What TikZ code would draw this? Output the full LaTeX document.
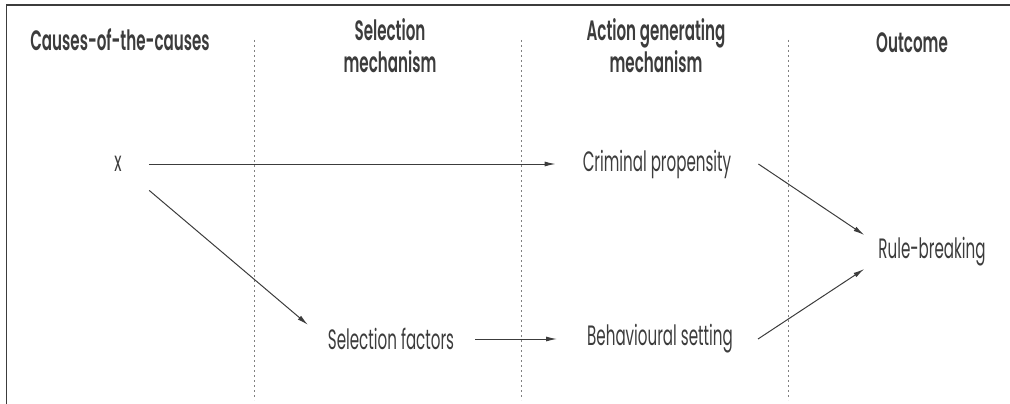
\documentclass[tikz,border=0pt]{standalone}
\usepackage{fontspec}
\setmainfont{Poppins}[BoldFont={* SemiBold},FakeStretch=0.54,BoldFeatures={FakeStretch=0.54}]
\usetikzlibrary{arrows.meta}
\definecolor{inkgray}{RGB}{60,60,60}

\begin{document}
\begin{tikzpicture}[x=1pt,y=-1pt,
  lbl/.style={font=\fontsize{28}{30}\selectfont,text=inkgray,inner sep=3pt},
  head/.style={lbl,font=\fontsize{28}{32}\selectfont\bfseries,align=center},
  arr/.style={draw=inkgray,line width=1pt,-{Latex[length=11pt,width=5pt]}},
  sep/.style={draw=gray,line width=0.8pt,dash pattern=on 2pt off 3pt}]
\useasboundingbox (0,0) rectangle (1010,404);
\draw[inkgray,line width=1.3pt] (6.5,404) -- (6.5,5) -- (1010,5); % frame
% column headings
\node[head] (hcause) at (120,40) {Causes-of-the-causes};
\node[head] (hsel) at (390,46) {Selection\\mechanism};
\node[head] (hact) at (656,46) {Action generating\\mechanism};
\node[head] (hout) at (912,43) {Outcome};
% column separators
\draw[sep] (254,40) -- (254,400);
\draw[sep] (521,40) -- (521,400);
\draw[sep] (788,40) -- (788,400);
% the factors
\node[lbl] (x) at (118,164) {x};
\node[lbl] (crim) at (657,164) {Criminal propensity};
\node[lbl] (sel) at (391,339) {Selection factors};
\node[lbl] (beh) at (660,339) {Behavioural setting};
\node[lbl] (rule) at (932,252) {Rule-breaking};
% links
\draw[arr,shorten <=24pt,shorten >=24pt] (x.east) -- (crim.west);
\draw[arr,shorten <=32pt,shorten >=22pt] (x) -- (sel.west);
\draw[arr,shorten <=18pt,shorten >=27pt] (sel.east) -- (beh.west);
\draw[arr] ([xshift=24pt]crim.east) -- ([xshift=-11pt,yshift=17pt]rule.west);
\draw[arr] ([xshift=22pt]beh.east) -- ([xshift=-11pt,yshift=-17pt]rule.west);
\end{tikzpicture}
\end{document}
